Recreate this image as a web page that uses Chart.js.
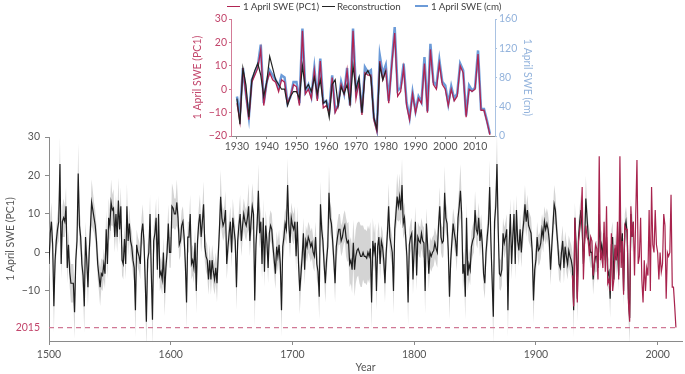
<!DOCTYPE html>
<html>
<head>
<meta charset="utf-8">
<script src="https://cdn.jsdelivr.net/npm/chart.js@4/dist/chart.umd.min.js"></script>
<style>
    body { margin: 0; background: #fff; font-family: Lato, sans-serif; }
    #wrap { position: relative; width: 685px; height: 374px; overflow: hidden; }
    #mainChart { position: absolute; left: 0; top: 0; }
    #insetChart { position: absolute; left: 185px; top: 0; }
    .lg { position: absolute; top: 0; font-size: 9.8px; letter-spacing: -0.1px; line-height: 12px; color: #444; white-space: nowrap; }
    .lg i { position: absolute; top: 6px; width: 13px; }
</style>
</head>
<body>
<div id="wrap">
    <canvas id="mainChart" width="685" height="374"></canvas>
    <canvas id="insetChart" width="360" height="155"></canvas>
    <div class="lg" style="left:227px"><i style="left:0;border-top:1.3px solid #b02452"></i><span style="margin-left:16px">1 April SWE (PC1)</span></div>
    <div class="lg" style="left:322px"><i style="left:0;border-top:1.3px solid #222"></i><span style="margin-left:15px">Reconstruction</span></div>
    <div class="lg" style="left:415px"><i style="left:0;top:5px;border-top:2.5px solid #6c9bd8"></i><span style="margin-left:16px">1 April SWE (cm)</span></div>
</div>
<script>
// reconstructed 1 April SWE (PC1), one value per year, 1500-1980
const reconStart = 1500;
const reconstruction = [
    -3, 5, 8, 2, -14, -2, 3, 6, 8, 23,
    -3, 8, 9, 8, 12, -4, 2, -5, -8, -8,
    -8, -15.5, -2, 3, 20.5, 7, 4, -3, -6, -14,
    4, -2, -9, 0, 6, 13, 11, 9, 7, 3,
    -3, -6, -9, -5.5, -6, -3, -5.5, 6, -3, 9,
    7, 13, 11, 11.5, 4, 10, 4, 13.5, 6, 12,
    -2, -3, 3.5, -3, 12, 3, 7.5, 3, 1.5, -2,
    -4, -15, 2, 0, -1, -3, 5, 7.5, 3, -7,
    -18, -2, 0, 10, -5, -17.5, 3, 5, 9, -4.5,
    10, -6, -5, -7, 0, -10.5, -4, 0, 7.5, 0,
    0, 12, 11.5, 10, 10, 13, 9, 2, 3, 7,
    8, 4, -3, -13, 4, 4, 10, -3, -2, -4,
    2.5, -10, 3, 7.5, 10, 4, 8, 12.5, 1.5, -1,
    -2, -7, -2, -7, -2, -5, -7, -4, -8, -1,
    6, 14.5, 9, 7, 8, 11, -3, 1.5, 5, 8,
    0, 9, 6, 3, -9, 3, 7, 10, 3, 7,
    10, 8, 7, 9, 12, 3, 8, 12, 10, -12.5,
    2, 7.5, 16, 5, 8, -3, 9, -5, 7, 3,
    -4, 5, 7, 6, 1.5, -2, -5.5, 1.5, -1, 2,
    -3, -15, 1.5, 4, 7.5, 6, 17.5, 7.5, 2.5, 9,
    7, 6, 8, -1, 8, -3, -10, -5.5, -1, 5,
    -4.5, 3, 1.5, 4, 3, 1.5, 2.5, 0, -1, 4,
    -3, -5, -11.5, 12.5, 6, 3, -3, -8, -2, 1.5,
    15.5, 9, 7.5, 3, -2, -8, 1.5, 4, 6, 6,
    3, 4, 6, 7, 4, 2.5, 3, -3, -2, -4.5,
    2.5, -4.5, -1, 0.5, 1, 0, -1, -1, 0, -1,
    -1, -1.5, 0, -1, 1, -13, 3, 0, 2.5, -10,
    1.5, 4, -3, 3, 1.5, -2, -8, 0, 5, 12,
    4, 2, 0, -10, 6, 10, 14.5, 12, 14.5, 11,
    17.5, 7.5, 9, 4, -1, -13, 2, 4, 5, -7,
    1, 8, -6, 4, 3, 2.5, 5, 3, 2.5, -10,
    7.5, 2, -5.5, 0, -1, 0, 0.5, 2.5, 1, 0,
    7, 12, 4, 2.5, 3, 15.5, 9, 7.5, 0.5, -11.5,
    -2, 3, 7.5, 5, 3, -1, 9, 12, 16, 10,
    -5.5, -3, -11.5, 9, -6, -3, -4.5, 1.5, 3, 4,
    11, 6, 5, 9, 3, 6, 2, -5.5, -8, 0,
    4, 7.5, 17, 3, -7, -16.7, 8, 12, 23, 6,
    -5.5, -6, -4.5, 5, 2.5, 4, 6, -15, 2, 10,
    -3, 4, 10, -3, 11, 3, 0.5, 6, 0, 5,
    8, 12.5, 8, 11, 7, 6, 5, 0, -12.5, -4.5,
    -2, 4, 0.5, 1, 2.5, 6, 4, 8, 6, 7.5,
    6, 3, -4.5, 1.5, 7, 12.5, 11, 6, 2, -3,
    -4, 0, 3, -4, 1.5, -1, -3, 0.5, -1, -2,
    -4, -15, 9, 2, -12, 4, 8, 11, 6, -3,
    3, 14, 9, 4, 2, 0, 0, -7, -3, -1,
    -1, -4, 10, 0, 2, -1, 5, -2, 4, -6,
    -5, -12, 2, 4, -7, 1, -2, 2, -6, 10,
    0, 5, -10, 6, 8, 5, -12, -17, 10, 4,
    8
];

// half-width of the grey uncertainty band, per year
const reconError = [
    5, 4, 5, 4, 7, 4, 4, 4, 5, 7,
    4, 4, 5, 4, 5, 4, 4, 4, 5, 5,
    5, 7, 4, 4, 8, 5, 4, 4, 5, 7,
    4, 4, 5, 4, 4, 6, 5, 4, 4, 4,
    4, 4, 5, 4, 4, 4, 4, 5, 4, 5,
    4, 6, 4, 5, 4, 5, 4, 6, 4, 5,
    4, 4, 4, 4, 6, 4, 4, 4, 4, 4,
    4, 7, 4, 4, 4, 4, 4, 5, 4, 5,
    7, 4, 4, 5, 4, 7, 4, 4, 5, 4,
    5, 4, 4, 4, 4, 6, 4, 4, 5, 4,
    4, 6, 5, 4, 4, 6, 4, 4, 4, 4,
    4, 4, 4, 7, 4, 4, 5, 4, 4, 4,
    4, 6, 4, 4, 5, 4, 4, 6, 4, 4,
    4, 4, 4, 4, 4, 4, 4, 4, 5, 4,
    4, 7, 4, 4, 4, 5, 4, 4, 4, 4,
    4, 5, 4, 4, 6, 4, 4, 5, 4, 4,
    4, 4, 4, 4, 6, 4, 4, 6, 4, 7,
    4, 4, 7, 4, 4, 4, 5, 4, 4, 4,
    4, 4, 4, 4, 4, 4, 4, 4, 4, 4,
    4, 7, 4, 4, 4, 4, 7, 4, 4, 4,
    4, 4, 4, 4, 4, 4, 6, 4, 4, 4,
    4, 4, 4, 4, 4, 4, 4, 4, 4, 4,
    4, 4, 6, 6, 4, 4, 4, 5, 4, 4,
    7, 4, 4, 4, 4, 5, 4, 4, 4, 4,
    4, 4, 4, 4, 5, 5, 5, 6, 6, 6,
    6, 7, 7, 7, 7, 8, 8, 8, 7, 7,
    7, 7, 7, 7, 7, 7, 6, 5, 5, 5,
    4, 4, 4, 4, 4, 4, 5, 4, 4, 6,
    4, 4, 4, 6, 4, 4, 6, 4, 6, 4,
    7, 4, 4, 4, 4, 6, 4, 4, 4, 4,
    4, 4, 4, 4, 4, 4, 4, 4, 4, 6,
    4, 4, 4, 4, 4, 4, 4, 4, 4, 4,
    4, 5, 4, 4, 4, 7, 4, 4, 4, 6,
    4, 4, 4, 4, 4, 4, 4, 5, 7, 4,
    4, 4, 6, 4, 4, 4, 4, 4, 4, 4,
    5, 4, 4, 4, 4, 4, 4, 4, 4, 4,
    4, 4, 7, 4, 4, 7, 4, 5, 8, 4,
    4, 4, 4, 4, 4, 4, 4, 7, 4, 4,
    4, 4, 4, 4, 4, 4, 4, 4, 4, 4,
    4, 5, 4, 4, 4, 4, 4, 4, 6, 4,
    4, 4, 4, 4, 4, 4, 4, 4, 4, 4,
    4, 4, 4, 4, 4, 5, 4, 4, 4, 4,
    4, 4, 4, 4, 4, 4, 4, 4, 4, 4,
    4, 7, 4, 4, 6, 4, 4, 4, 4, 4,
    4, 6, 4, 4, 4, 4, 4, 4, 4, 4,
    4, 4, 4, 4, 4, 4, 4, 4, 4, 4,
    4, 5, 4, 4, 4, 4, 4, 4, 4, 4,
    4, 4, 4, 4, 4, 4, 5, 7, 4, 4,
    4
];

// observed 1 April SWE, 1930-2015
const obsStart = 1930;
const obsPC1 = [
    -6, -14, 9, -2, -13, 3, 6, 9, 17, -7,
    3, 7, 4, 3, -1, 4, 3, -6, -3, 2,
    1, -7, 25, -2, 0, -4, 8, -5, 12, -8,
    -7, -10, 5, -10, -7, 2, -2, 8, -7, 25,
    -4, 3, -11, 7, 6, 6, -13, -18, 12, 4,
    8, -6, 10, 24, -3, -1, 9, -7, -13, -2,
    -10, -4, -6, 11, -10, 17, 2, 0, 11, 2,
    0, -7, 0, -5, -3, 10, 7, -12, 0, -1,
    0, 15, -9, -9, -14, -19.5
];
const obsCm = [
    54, 29, 93, 58, 26, 77, 86, 96, 125, 45,
    74, 90, 83, 77, 67, 83, 80, 45, 54, 74,
    74, 45, 147, 61, 70, 54, 93, 51, 106, 45,
    48, 35, 83, 35, 42, 74, 58, 93, 42, 147,
    61, 76, 32, 94, 87, 90, 25, 9, 110, 85,
    97, 48, 99, 149, 62, 66, 99, 46, 25, 60,
    34, 54, 46, 108, 34, 126, 74, 69, 104, 74,
    69, 44, 68, 51, 58, 99, 90, 28, 69, 62,
    66, 117, 37, 37, 21, 3
];
const swe2015 = -19.5;

const mainXTicks = [1500, 1600, 1700, 1800, 1900, 2000];
const mainYTicks = [swe2015, -10, 0, 10, 20, 30];
const insetXTicks = [1930, 1940, 1950, 1960, 1970, 1980, 1990, 2000, 2010];

const RED = '#a8234d';
const RED_LIGHT = '#c2456b';
const BLUE = '#6c9bd8';
const BLUE_LIGHT = '#93b3dc';
const GREY_TXT = '#555';
const AXIS = '#8a8a8a';
const FONT = "Lato, sans-serif";

function pts(values, start) {
    return values.map((v, i) => ({ x: start + i, y: v }));
}
function minus(v) {
    return String(v).replace('-', '\u2212');
}

const lower = reconstruction.map((v, i) => v - reconError[i]);
const upper = reconstruction.map((v, i) => v + reconError[i]);

const lineBase = { pointRadius: 0, tension: 0, fill: false };

// lower "order" is drawn on top
new Chart(document.getElementById('mainChart'), {
    type: 'line',
    data: {
        datasets: [
            { ...lineBase, order: 5, data: pts(lower, reconStart), borderWidth: 0, borderColor: 'rgba(0,0,0,0)' },
            { ...lineBase, order: 4, data: pts(upper, reconStart), borderWidth: 0, borderColor: 'rgba(0,0,0,0)', fill: '-1', backgroundColor: '#d4d4d4' },
            { ...lineBase, order: 3, data: [{ x: reconStart, y: swe2015 }, { x: 2015, y: swe2015 }], borderColor: '#d07895', borderWidth: 1.2, borderDash: [5, 4] },
            { ...lineBase, order: 2, data: pts(reconstruction, reconStart), borderColor: '#1e1e1e', borderWidth: 1.2 },
            { ...lineBase, order: 1, data: pts(obsPC1, obsStart), borderColor: RED, borderWidth: 1.2 }
        ]
    },
    options: {
        responsive: false,
        animation: false,
        layout: { padding: { top: 137, right: 3, left: 0, bottom: 0 } },
        plugins: { legend: { display: false }, tooltip: { enabled: false } },
        scales: {
            x: {
                type: 'linear', min: 1500, max: 2020,
                afterBuildTicks: (s) => { s.ticks = mainXTicks.map(v => ({ value: v })); },
                afterFit: (s) => { s.height = 33; },
                ticks: { color: GREY_TXT, font: { family: FONT, size: 10.5 }, padding: 3, maxRotation: 0, callback: v => v },
                grid: { drawOnChartArea: false, tickLength: 4, color: AXIS },
                border: { color: AXIS },
                title: { display: true, text: 'Year', color: GREY_TXT, font: { family: FONT, size: 10.5 }, padding: 0 }
            },
            y: {
                min: -23, max: 30,
                afterBuildTicks: (s) => { s.ticks = mainYTicks.map(v => ({ value: v })); },
                afterFit: (s) => { s.width = 49; },
                ticks: {
                    color: (c) => (c.tick && c.tick.value === swe2015 ? RED_LIGHT : GREY_TXT),
                    font: { family: FONT, size: 10.5 }, padding: 5,
                    callback: v => (v === swe2015 ? '2015' : minus(v))
                },
                grid: {
                    drawOnChartArea: false, tickLength: 4, color: AXIS,
                    tickColor: (c) => (c.tick && c.tick.value === swe2015 ? 'rgba(0,0,0,0)' : AXIS)
                },
                border: { color: AXIS },
                title: { display: true, text: '1 April SWE (PC1)', color: GREY_TXT, font: { family: FONT, size: 10.5 }, padding: { top: 4, bottom: 4 } }
            }
        }
    }
});

new Chart(document.getElementById('insetChart'), {
    type: 'line',
    data: {
        datasets: [
            { ...lineBase, order: 3, label: '1 April SWE (cm)', data: pts(obsCm, obsStart), yAxisID: 'y2', borderColor: BLUE, borderWidth: 2.5 },
            { ...lineBase, order: 2, label: '1 April SWE (PC1)', data: pts(obsPC1, obsStart), yAxisID: 'y', borderColor: '#b02452', borderWidth: 1.3 },
            { ...lineBase, order: 1, label: 'Reconstruction', data: pts(reconstruction.slice(obsStart - reconStart), obsStart), yAxisID: 'y', borderColor: '#222', borderWidth: 1.2 }
        ]
    },
    options: {
        responsive: false,
        animation: false,
        layout: { padding: { top: 19, right: 0, left: 0, bottom: 0 } },
        plugins: { legend: { display: false }, tooltip: { enabled: false } },
        scales: {
            x: {
                type: 'linear', min: 1928, max: 2016.7,
                afterBuildTicks: (s) => { s.ticks = insetXTicks.map(v => ({ value: v })); },
                afterFit: (s) => { s.height = 19; },
                ticks: { color: GREY_TXT, font: { family: FONT, size: 10.5 }, padding: 1, maxRotation: 0, callback: v => v },
                grid: { drawOnChartArea: false, tickLength: 3, color: AXIS },
                border: { color: AXIS }
            },
            y: {
                position: 'left', min: -20, max: 30,
                afterFit: (s) => { s.width = 46; },
                ticks: { stepSize: 10, color: RED_LIGHT, font: { family: FONT, size: 10.5 }, padding: 2, callback: v => minus(v) },
                grid: { drawOnChartArea: false, tickLength: 2, color: '#d37b96' },
                border: { color: '#d37b96' },
                title: { display: true, text: '1 April SWE (PC1)', color: RED_LIGHT, font: { family: FONT, size: 10.5 }, padding: { top: 6, bottom: 2 } }
            },
            y2: {
                position: 'right', min: 0, max: 160,
                afterFit: (s) => { s.width = 50; },
                ticks: { stepSize: 40, color: BLUE_LIGHT, font: { family: FONT, size: 10.5 }, padding: 2 },
                grid: { drawOnChartArea: false, tickLength: 2, color: '#a9c2e2' },
                border: { color: '#a9c2e2' },
                title: { display: true, text: '1 April SWE (cm)', color: BLUE_LIGHT, font: { family: FONT, size: 10.5 }, padding: { top: 11, bottom: 2 } }
            }
        }
    }
});
</script>
</body>
</html>
